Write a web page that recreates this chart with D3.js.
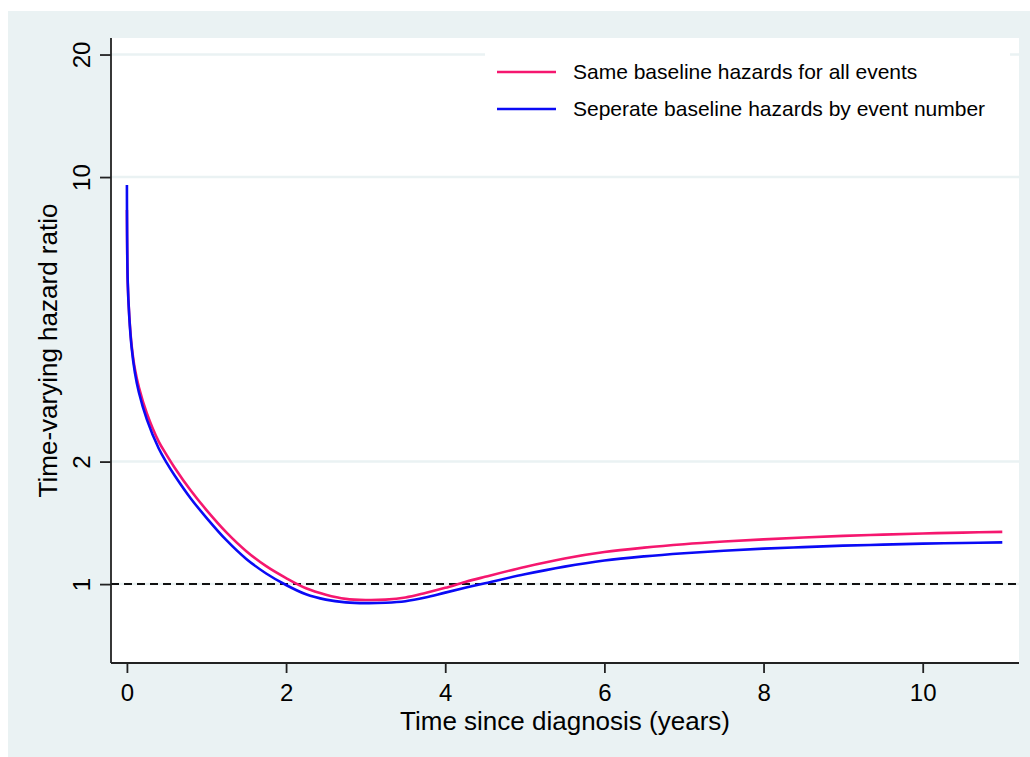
<!DOCTYPE html>
<html>
<head>
<meta charset="utf-8">
<script src="https://cdn.jsdelivr.net/npm/d3@7"></script>
<style>
  body { margin: 0; background: #fff; }
  svg { display: block; }
  text { font-family: "Liberation Sans", Arial, Helvetica, sans-serif; fill: #000; }
</style>
</head>
<body>
<svg id="chart" width="1030" height="757"></svg>
<script>
// Time since diagnosis (years)
const timeYears = [0, 0.01, 0.03, 0.06, 0.1, 0.15, 0.25, 0.4, 0.5, 0.6, 0.8, 1.0, 1.25, 1.5, 1.75,
  2.0, 2.25, 2.5, 2.75, 3.0, 3.25, 3.5, 3.75, 4.0, 4.25, 4.5, 5.0, 5.5, 6.0, 6.5, 7.0, 7.5,
  8.0, 8.5, 9.0, 9.5, 10.0, 10.5, 11.0];

// Same baseline hazards for all events
const hrSame = [8.3, 5.50, 4.55, 3.85, 3.38, 3.05, 2.63, 2.239, 2.075, 1.932, 1.70, 1.52, 1.34, 1.205, 1.107,
  1.035, 0.977, 0.942, 0.920, 0.914, 0.916, 0.927, 0.951, 0.979, 1.012, 1.042, 1.102, 1.156, 1.199, 1.229, 1.253, 1.272,
  1.288, 1.302, 1.314, 1.323, 1.332, 1.338, 1.344];

// Seperate baseline hazards by event number
const hrSeparate = [9.56, 5.56, 4.52, 3.80, 3.31, 2.96, 2.54, 2.153, 1.986, 1.849, 1.626, 1.455, 1.282, 1.153, 1.062,
  0.995, 0.944, 0.916, 0.902, 0.898, 0.900, 0.908, 0.927, 0.953, 0.979, 1.005, 1.057, 1.104, 1.143, 1.170, 1.191, 1.208,
  1.222, 1.233, 1.243, 1.250, 1.257, 1.262, 1.266];

const xTicks = [0, 2, 4, 6, 8, 10];
const yTicks = [1, 2, 10, 20];
const legendLabels = ["Same baseline hazards for all events", "Seperate baseline hazards by event number"];
const seriesColors = ["#f5176f", "#0a0af5"];

const svg = d3.select("#chart");

// outer graph region
svg.append("rect")
  .attr("x", 8).attr("y", 11)
  .attr("width", 1022).attr("height", 746)
  .attr("fill", "#eaf2f3");

const plot = { left: 111, right: 1019, top: 38, bottom: 663 };

svg.append("rect")
  .attr("x", plot.left).attr("y", plot.top)
  .attr("width", plot.right - plot.left).attr("height", plot.bottom - plot.top)
  .attr("fill", "#fff");

const x = d3.scaleLinear().domain([-0.2, 11.21]).range([plot.left, plot.right]);
const y = d3.scaleLog().domain([0.64, 21.96]).range([plot.bottom, plot.top]);

// gridlines
svg.append("g")
  .selectAll("line")
  .data(yTicks)
  .enter().append("line")
  .attr("x1", plot.left).attr("x2", plot.right)
  .attr("y1", d => y(d)).attr("y2", d => y(d))
  .attr("stroke", "#eaf2f3")
  .attr("stroke-width", 2.5);

// legend box (masks gridline behind it)
svg.append("rect")
  .attr("x", 485).attr("y", 40)
  .attr("width", 525).attr("height", 92)
  .attr("fill", "#fff");

// reference line at HR = 1
svg.append("line")
  .attr("x1", plot.left).attr("x2", plot.right)
  .attr("y1", y(1)).attr("y2", y(1))
  .attr("stroke", "#111")
  .attr("stroke-width", 2)
  .attr("stroke-dasharray", "8,5");

const line = d3.line()
  .x(d => x(d[0]))
  .y(d => y(d[1]))
  .curve(d3.curveCatmullRom.alpha(0.5));

[hrSame, hrSeparate].forEach((vals, i) => {
  svg.append("path")
    .datum(timeYears.map((t, j) => [t, vals[j]]))
    .attr("fill", "none")
    .attr("stroke", seriesColors[i])
    .attr("stroke-width", 2.6)
    .attr("d", line);
});

// axes
const xAxis = svg.append("g")
  .attr("transform", `translate(0,${plot.bottom})`)
  .call(d3.axisBottom(x).tickValues(xTicks).tickFormat(d3.format("d")).tickSizeOuter(0).tickSize(10).tickPadding(11));

const yAxis = svg.append("g")
  .attr("transform", `translate(${plot.left},0)`)
  .call(d3.axisLeft(y).tickValues(yTicks).tickFormat(d3.format("d")).tickSizeOuter(0).tickSize(11));

[xAxis, yAxis].forEach(g => {
  g.select(".domain").attr("stroke", "#222").attr("stroke-width", 1.8);
  g.selectAll(".tick line").attr("stroke", "#222").attr("stroke-width", 1.8);
  g.selectAll(".tick text").style("font-size", "24px").attr("fill", "#000");
});

// domains span the whole plot region
xAxis.select(".domain").attr("d", `M${plot.left},0H${plot.right}`);
yAxis.select(".domain").attr("d", `M0,${plot.top}V${plot.bottom}`);

yAxis.selectAll(".tick text")
  .attr("transform", "rotate(-90)")
  .attr("text-anchor", "middle")
  .attr("x", 0)
  .attr("y", -21)
  .attr("dy", 0);

// axis titles
svg.append("text")
  .attr("x", (plot.left + plot.right) / 2)
  .attr("y", 730)
  .attr("text-anchor", "middle")
  .style("font-size", "26px")
  .text("Time since diagnosis (years)");

svg.append("text")
  .attr("transform", `translate(57,${(plot.top + plot.bottom) / 2}) rotate(-90)`)
  .attr("text-anchor", "middle")
  .style("font-size", "26px")
  .text("Time-varying hazard ratio");

// legend
const legend = svg.append("g");
legendLabels.forEach((label, i) => {
  const ly = 72 + i * 37;
  legend.append("line")
    .attr("x1", 497).attr("x2", 556)
    .attr("y1", ly).attr("y2", ly)
    .attr("stroke", seriesColors[i])
    .attr("stroke-width", 2.6);
  legend.append("text")
    .attr("x", 573).attr("y", ly + 7)
    .style("font-size", "21px")
    .text(label);
});
</script>
</body>
</html>
